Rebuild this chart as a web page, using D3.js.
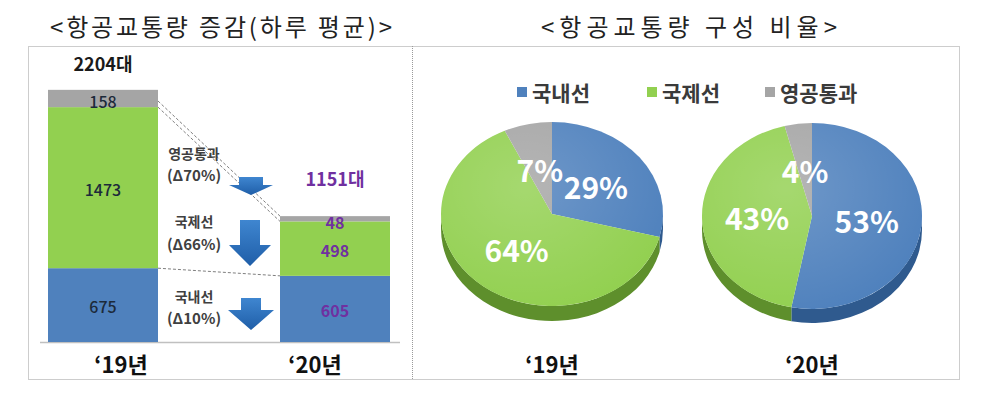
<!DOCTYPE html>
<html><head><meta charset="utf-8">
<script src="https://cdn.jsdelivr.net/npm/d3@7"></script>
<style>body{margin:0;background:#fff} svg{display:block}</style>
</head><body><svg id="c" width="1000" height="411"></svg>
<script>
// ---------- data ----------
const years = ["‘19년", "‘20년"];
const categories = ["국내선", "국제선", "영공통과"];
const domestic = [675, 605];
const international = [1473, 498];
const overflight = [158, 48];
const totals = [2204, 1151];
const share19 = [29, 64, 7];
const share20 = [53, 43, 4];
const titles = ["<항공교통량 증감(하루 평균)>", "<항공교통량 구성 비율>"];
const unit = "대";

// ---------- style / layout ----------
const colors = ["#4f81bd", "#92d050", "#a5a5a5"];
const sideColors = ["#2f5a8e", "#5e8f2c", "#7a7a7a"];
const purple = "#7030a0";
const FONT = "'Noto Sans CJK KR', 'Noto Sans', sans-serif";

const svg = d3.select("#c").style("font-family", FONT);
const defs = svg.append("defs");

// frame
const frame = {x0: 28, x1: 959, y0: 46, y1: 379, mid: 412};
const frameG = svg.append("g").attr("fill", "none").attr("stroke", "#9a9a9a")
  .attr("stroke-width", 1).attr("stroke-dasharray", "1,1");
frameG.append("rect").attr("x", frame.x0 + 0.5).attr("y", frame.y0 + 0.5)
  .attr("width", frame.x1 - frame.x0).attr("height", frame.y1 - frame.y0);
frameG.append("line").attr("x1", frame.mid + 0.5).attr("x2", frame.mid + 0.5)
  .attr("y1", frame.y0).attr("y2", frame.y1);

// titles
svg.append("text").attr("x", 50).attr("y", 36).attr("font-size", 24)
  .attr("fill", "#222").attr("textLength", 342).attr("lengthAdjust", "spacing")
  .text(titles[0]);
svg.append("text").attr("x", 541).attr("y", 36).attr("font-size", 24)
  .attr("fill", "#222").attr("textLength", 296).attr("lengthAdjust", "spacing")
  .text(titles[1]);

// ---------- stacked bars ----------
const table = years.map((y, i) => ({
  year: y, [categories[0]]: domestic[i], [categories[1]]: international[i], [categories[2]]: overflight[i]
}));
const stack = d3.stack().keys(categories)(table);

const x = d3.scaleBand().domain(years).range([48, 390]).paddingInner(0.5259).paddingOuter(0);
const y = d3.scaleLinear().domain([0, d3.max(totals)]).range([342, 101]);

// axis baseline
svg.append("line").attr("x1", 40).attr("x2", 400).attr("y1", y(0) + 0.5).attr("y2", y(0) + 0.5)
  .attr("stroke", "#c0c0c0").attr("stroke-width", 1.5);

const barG = svg.append("g");
stack.forEach((s, si) => {
  barG.selectAll(null).data(s).join("rect")
    .attr("x", d => x(d.data.year)).attr("width", x.bandwidth())
    .attr("y", d => y(d[1])).attr("height", d => y(d[0]) - y(d[1]))
    .attr("fill", colors[si]);
});

// dashed connectors
const bw = x.bandwidth();
const connG = svg.append("g").attr("stroke", "#7f7f7f").attr("stroke-width", 1)
  .attr("stroke-dasharray", "3,2").attr("fill", "none");
[
  [totals[0], totals[1]],
  [domestic[0] + international[0], domestic[1] + international[1]],
  [domestic[0], domestic[1]]
].forEach(([a, b]) => {
  connG.append("line")
    .attr("x1", x(years[0]) + bw).attr("y1", y(a))
    .attr("x2", x(years[1])).attr("y2", y(b));
});

// segment labels
stack.forEach((s, si) => {
  svg.selectAll(null).data(s).join("text")
    .attr("x", d => x(d.data.year) + bw / 2)
    .attr("y", (d, i) => (y(d[0]) + y(d[1])) / 2 + (si === 2 ? 3 : 1))
    .attr("text-anchor", "middle").attr("dominant-baseline", "central")
    .attr("font-size", 16)
    .attr("font-weight", (d, i) => i === 0 ? 500 : 700)
    .attr("fill", (d, i) => i === 0 ? "#1c2a3a" : purple)
    .text((d, i) => d[1] - d[0]);
});

// totals
svg.selectAll(null).data(totals).join("text")
  .attr("x", (d, i) => x(years[i]) + bw / 2)
  .attr("y", d => y(d) - 38)
  .attr("text-anchor", "middle").attr("dominant-baseline", "central")
  .attr("font-size", 18).attr("font-weight", 700)
  .attr("fill", (d, i) => i === 0 ? "#1a1a1a" : purple)
  .text(d => d + unit);

// x labels (bar chart)
const barLabelOffset = [18, -20];
svg.selectAll(null).data(years).join("text")
  .attr("x", (d, i) => x(d) + bw / 2 + barLabelOffset[i]).attr("y", 363)
  .attr("text-anchor", "middle").attr("dominant-baseline", "central")
  .attr("font-size", 22).attr("font-weight", 700).attr("fill", "#111")
  .text(d => d);

// change annotations with arrows
const ag = defs.append("linearGradient").attr("id", "arrowGrad")
  .attr("x1", 0).attr("y1", 0).attr("x2", 0).attr("y2", 1);
ag.append("stop").attr("offset", "0%").attr("stop-color", "#3f86d0");
ag.append("stop").attr("offset", "100%").attr("stop-color", "#1f5ea8");

const series = [domestic, international, overflight];
const notes = [
  {k: 2, ty: [153, 174], arrow: {cx: 251, top: 177, neck: 185, bot: 195, sw: 24, hw: 44}},
  {k: 1, ty: [221, 243], arrow: {cx: 250, top: 220, neck: 245, bot: 266, sw: 20, hw: 42}},
  {k: 0, ty: [296, 317], arrow: {cx: 251, top: 298, neck: 310, bot: 330, sw: 20, hw: 46}}
];
notes.forEach(n => {
  const v = series[n.k];
  const pct = Math.round((1 - v[1] / v[0]) * 100);
  svg.append("text").attr("x", 194).attr("y", n.ty[0]).attr("text-anchor", "middle")
    .attr("dominant-baseline", "central").attr("font-size", 14).attr("font-weight", 700)
    .attr("fill", "#404040").text(categories[n.k]);
  svg.append("text").attr("x", 194).attr("y", n.ty[1]).attr("text-anchor", "middle")
    .attr("dominant-baseline", "central").attr("font-size", 15).attr("font-weight", 700)
    .attr("fill", "#404040").text("(Δ" + pct + "%)");
  const a = n.arrow;
  const p = d3.path();
  p.moveTo(a.cx - a.sw / 2, a.top); p.lineTo(a.cx + a.sw / 2, a.top);
  p.lineTo(a.cx + a.sw / 2, a.neck); p.lineTo(a.cx + a.hw / 2, a.neck);
  p.lineTo(a.cx, a.bot); p.lineTo(a.cx - a.hw / 2, a.neck);
  p.lineTo(a.cx - a.sw / 2, a.neck); p.closePath();
  svg.append("path").attr("d", p.toString()).attr("fill", "url(#arrowGrad)");
});

// ---------- legend ----------
const legendX = [517, 647, 765];
const leg = svg.append("g");
categories.forEach((c, i) => {
  leg.append("rect").attr("x", legendX[i]).attr("y", 87).attr("width", 10).attr("height", 10)
    .attr("fill", colors[i]);
  leg.append("text").attr("x", legendX[i] + 15).attr("y", 92).attr("dominant-baseline", "central")
    .attr("font-size", 21).attr("font-weight", 700).attr("fill", "#3a3a3a").text(c);
});

// ---------- 3D pies ----------
const hl = defs.append("radialGradient").attr("id", "pieHL")
  .attr("cx", "38%").attr("cy", "35%").attr("r", "70%");
hl.append("stop").attr("offset", "0%").attr("stop-color", "#fff").attr("stop-opacity", 0.18);
hl.append("stop").attr("offset", "100%").attr("stop-color", "#fff").attr("stop-opacity", 0);

const pie = d3.pie().sort(null).startAngle(0).endAngle(2 * Math.PI);
function drawPie(cx, cy, rx, ry, depth, values, label) {
  const g = svg.append("g");
  const arcs = pie(values);
  const pt = (a, dy = 0) => [cx + rx * Math.sin(a), cy - ry * Math.cos(a) + dy];
  // sides (front half only)
  arcs.forEach((d, i) => {
    const s0 = Math.max(d.startAngle, Math.PI / 2), s1 = Math.min(d.endAngle, 3 * Math.PI / 2);
    if (s0 >= s1) return;
    const large = (s1 - s0) > Math.PI ? 1 : 0;
    const [x0, y0] = pt(s0), [x1, y1] = pt(s1);
    const [x2, y2] = pt(s1, depth), [x3, y3] = pt(s0, depth);
    g.append("path")
      .attr("d", `M${x0},${y0}A${rx},${ry} 0 ${large} 1 ${x1},${y1}L${x2},${y2}A${rx},${ry} 0 ${large} 0 ${x3},${y3}Z`)
      .attr("fill", sideColors[i]);
  });
  // top faces
  arcs.forEach((d, i) => {
    const large = (d.endAngle - d.startAngle) > Math.PI ? 1 : 0;
    const [x0, y0] = pt(d.startAngle), [x1, y1] = pt(d.endAngle);
    g.append("path")
      .attr("d", `M${cx},${cy}L${x0},${y0}A${rx},${ry} 0 ${large} 1 ${x1},${y1}Z`)
      .attr("fill", colors[i]);
  });
  g.append("ellipse").attr("cx", cx).attr("cy", cy).attr("rx", rx).attr("ry", ry)
    .attr("fill", "url(#pieHL)");
  // labels
  arcs.forEach(d => {
    const m = (d.startAngle + d.endAngle) / 2;
    g.append("text").attr("x", cx + 0.5 * rx * Math.sin(m)).attr("y", cy - 0.5 * ry * Math.cos(m))
      .attr("text-anchor", "middle").attr("dominant-baseline", "central")
      .attr("font-size", 30).attr("font-weight", 700).attr("fill", "#fff")
      .text(d.data + "%");
  });
  g.append("text").attr("x", cx).attr("y", 363)
    .attr("text-anchor", "middle").attr("dominant-baseline", "central")
    .attr("font-size", 22).attr("font-weight", 700).attr("fill", "#111").text(label);
}
drawPie(552, 214, 111, 92, 15, share19, years[0]);
drawPie(812, 216, 110, 93, 14, share20, years[1]);
</script>
</body></html>
